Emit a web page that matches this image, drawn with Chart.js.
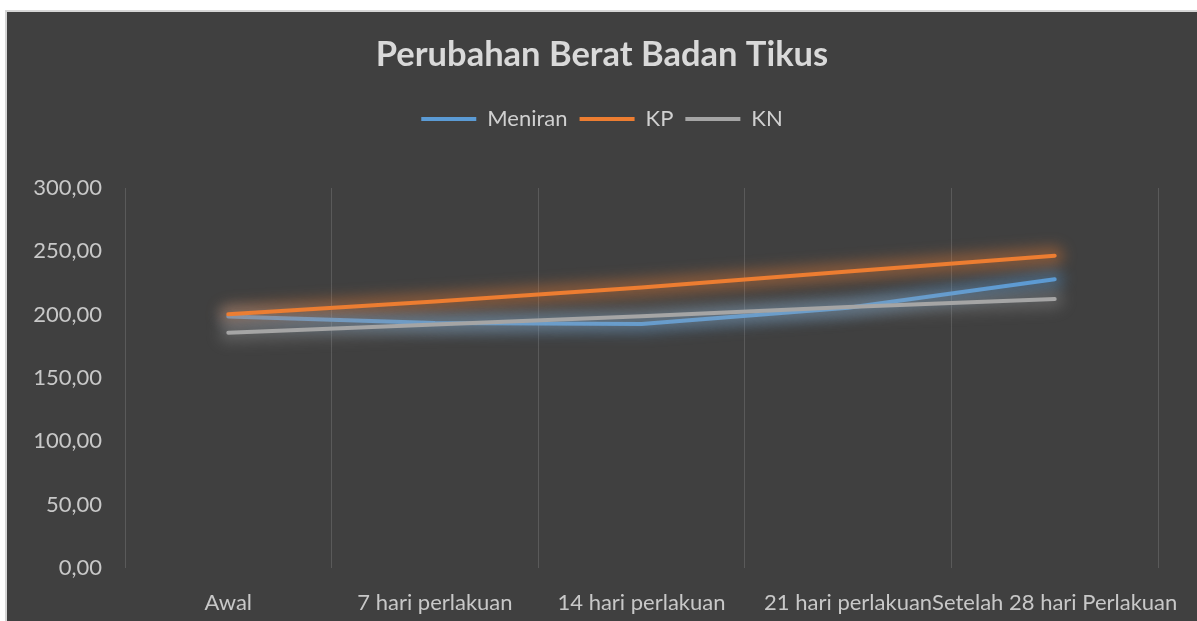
<!DOCTYPE html>
<html>
<head>
<meta charset="utf-8">
<script src="https://cdn.jsdelivr.net/npm/chart.js@4"></script>
<style>
  body { margin: 0; background: #ffffff; }
  #frame {
    position: absolute; left: 5px; top: 10px; width: 1192px; height: 611px;
    box-sizing: border-box; border-left: 2px solid #d6d6d6; border-top: 2px solid #d6d6d6;
    background: #404040;
  }
  #wrap { position: relative; width: 1190px; height: 609px; }
</style>
</head>
<body>
<div id="frame"><div id="wrap"><canvas id="chart"></canvas></div></div>
<script>
const categories = ['Awal', '7 hari perlakuan', '14 hari perlakuan', '21 hari perlakuan', 'Setelah 28 hari Perlakuan'];
const meniran = [198.5, 193.5, 192.7, 205.5, 228.0];
const kp = [200.3, 210.3, 221.5, 234.0, 246.5];
const kn = [185.7, 192.3, 198.8, 206.0, 212.4];
const yTicks = [0, 50, 100, 150, 200, 250, 300];

const fontFamily = 'Lato, "Open Sans", sans-serif';

// soft glow under each line, like the Excel preset
const glow = {
    id: 'glow',
    beforeDatasetDraw(chart, args) {
        const ds = chart.data.datasets[args.index];
        const pts = args.meta.data;
        const ctx = chart.ctx;
        ctx.save();
        ctx.filter = 'blur(7px)';
        ctx.strokeStyle = ds.glowColor;
        ctx.lineWidth = 18;
        ctx.lineCap = 'round';
        ctx.lineJoin = 'round';
        ctx.beginPath();
        pts.forEach((p, i) => i ? ctx.lineTo(p.x, p.y) : ctx.moveTo(p.x, p.y));
        ctx.stroke();
        ctx.restore();
    }
};

// extra room between the legend and the plot
const legendGap = {
    id: 'legendGap',
    beforeInit(chart) {
        const fit = chart.legend.fit;
        chart.legend.fit = function () {
            fit.call(this);
            this.height += 48;
        };
    }
};

function line(label, data, color, glowColor, order) {
    return {
        label: label,
        data: data,
        borderColor: color,
        backgroundColor: color,
        glowColor: glowColor,
        borderWidth: 4,
        borderCapStyle: 'round',
        borderJoinStyle: 'round',
        pointRadius: 0,
        pointHoverRadius: 0,
        tension: 0,
        fill: false,
        order: order
    };
}

new Chart(document.getElementById('chart'), {
    type: 'line',
    data: {
        labels: categories,
        datasets: [
            line('Meniran', meniran, '#5b9bd5', 'rgba(91,155,213,0.4)', 2),
            line('KP', kp, '#ed7d31', 'rgba(237,125,49,0.4)', 1),
            line('KN', kn, '#a5a5a5', 'rgba(165,165,165,0.3)', 0)
        ]
    },
    options: {
        responsive: true,
        maintainAspectRatio: false,
        animation: false,
        layout: { padding: 0 },
        plugins: {
            title: {
                display: true,
                text: 'Perubahan Berat Badan Tikus',
                color: '#d9d9d9',
                font: { family: fontFamily, size: 34.5, weight: 'bold' },
                padding: { top: 22, bottom: 20.6 }
            },
            legend: {
                position: 'top',
                labels: {
                    color: '#d0d0d0',
                    font: { family: fontFamily, size: 22 },
                    usePointStyle: true,
                    pointStyle: 'line',
                    pointStyleWidth: 55,
                    padding: 12,
                    sort: (a, b) => a.datasetIndex - b.datasetIndex
                }
            },
            tooltip: { enabled: false }
        },
        scales: {
            x: {
                offset: true,
                grid: { display: true, offset: true, color: '#5a5a5a', lineWidth: 1, drawTicks: false },
                border: { display: false },
                ticks: {
                    color: '#c8c8c8',
                    font: { family: fontFamily, size: 22 },
                    maxRotation: 0,
                    minRotation: 0,
                    autoSkip: false,
                    padding: 22
                },
                afterFit(scale) {
                    scale.height = 53;
                    scale.paddingLeft = 0;
                    scale.paddingRight = 0;
                }
            },
            y: {
                min: 0,
                max: 300,
                grid: { display: false },
                border: { display: false },
                afterBuildTicks(scale) { scale.ticks = yTicks.map(v => ({ value: v })); },
                ticks: {
                    color: '#c8c8c8',
                    font: { family: fontFamily, size: 22 },
                    padding: 15,
                    callback: v => v.toFixed(2).replace('.', ',')
                },
                afterFit(scale) { scale.width = 118; }
            },
            // empty right-hand strip so the title and legend stay centred on the whole chart
            spacer: {
                type: 'linear',
                position: 'right',
                display: true,
                grid: { display: false },
                border: { display: false },
                ticks: { display: false },
                afterFit(scale) { scale.width = 39; }
            }
        }
    },
    plugins: [glow, legendGap]
});
</script>
</body>
</html>
